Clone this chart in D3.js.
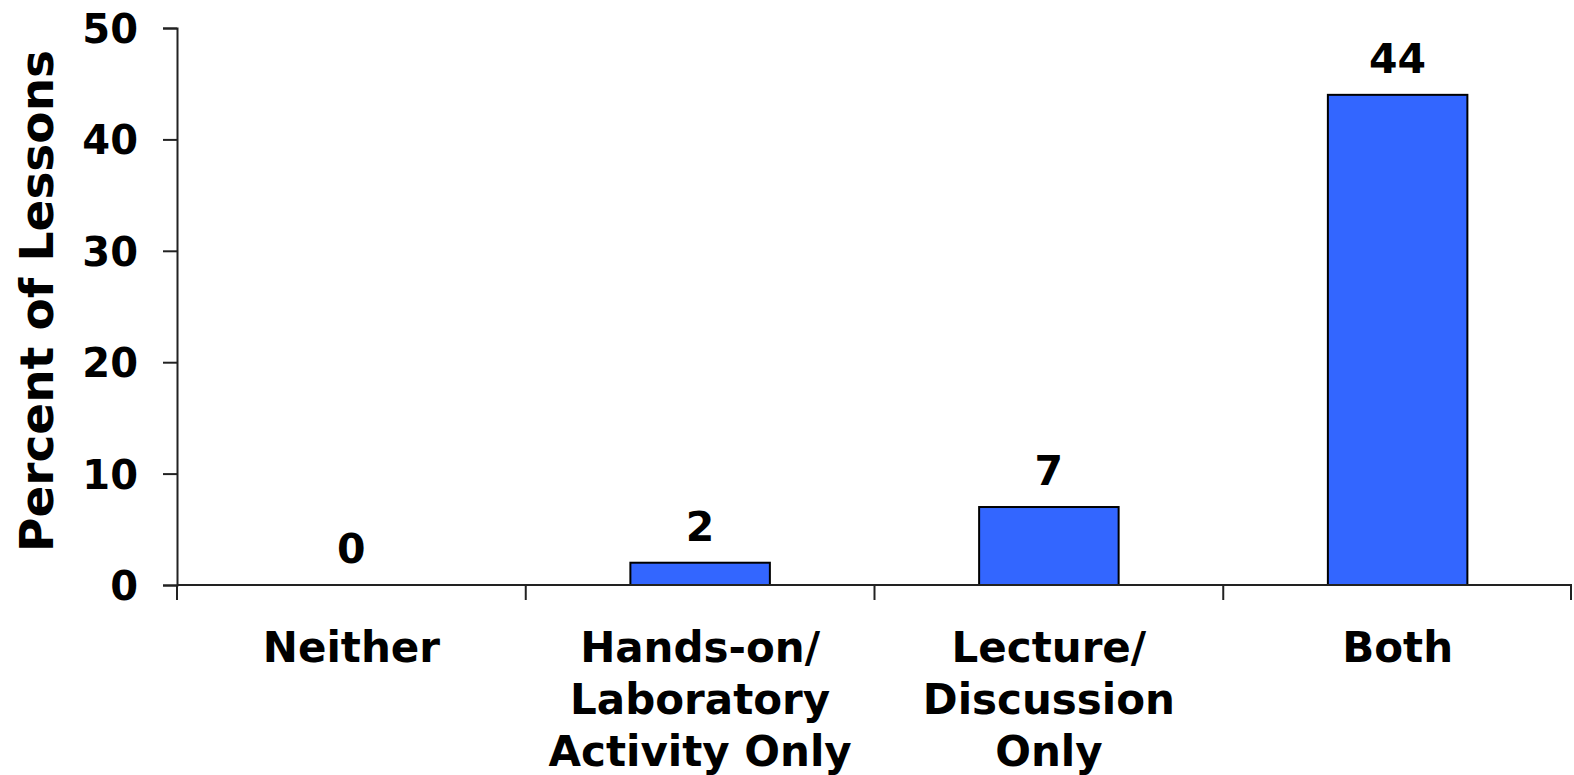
<!DOCTYPE html>
<html>
<head>
<meta charset="utf-8">
<script src="https://cdn.jsdelivr.net/npm/d3@7"></script>
<style>
  html, body { margin: 0; padding: 0; background: #fff; }
  svg { display: block; }
  text { font-family: "DejaVu Sans", Verdana, sans-serif; font-weight: bold; fill: #000; }
</style>
</head>
<body>
<svg id="chart" width="1574" height="775"></svg>
<script>
// Lesson format categories and their share of lessons (%)
const categories = ["Neither", "Hands-on/Laboratory Activity Only", "Lecture/Discussion Only", "Both"];
const categoryLines = [["Neither"], ["Hands-on/", "Laboratory", "Activity Only"], ["Lecture/", "Discussion", "Only"], ["Both"]];
const values = [0, 2, 7, 44];
const yTicks = [0, 10, 20, 30, 40, 50];
const yTitle = "Percent of Lessons";

const svg = d3.select("#chart");
const plotLeft = 177, plotRight = 1572, plotTop = 28, plotBottom = 585;

const x = d3.scaleBand()
  .domain(categories)
  .range([plotLeft, plotRight])
  .paddingInner(0.6)
  .paddingOuter(0.3);

const y = d3.scaleLinear().domain([0, 50]).range([plotBottom, plotTop]);

// Bars
svg.append("g").selectAll("rect")
  .data(values)
  .join("rect")
  .attr("x", (d, i) => x(categories[i]))
  .attr("y", d => y(d))
  .attr("width", x.bandwidth())
  .attr("height", d => y(0) - y(d))
  .attr("fill", "#3366FF")
  .attr("stroke", "#000")
  .attr("stroke-width", 2);

// Y axis
const yAxis = svg.append("g")
  .attr("transform", `translate(${plotLeft},0)`)
  .call(d3.axisLeft(y).tickValues(yTicks).tickSize(14).tickPadding(25).tickFormat(d3.format("d")));
yAxis.select(".domain").attr("stroke", "#222").attr("stroke-width", 2);
yAxis.selectAll(".tick line").attr("stroke", "#222").attr("stroke-width", 2);
yAxis.selectAll(".tick text")
  .style("font-size", "40px")
  .style("font-family", "'DejaVu Sans', Verdana, sans-serif")
  .style("font-weight", "bold")
  .attr("fill", "#000")
  .attr("dy", "0.36em");

// X axis baseline
svg.append("line")
  .attr("x1", plotLeft).attr("x2", plotRight)
  .attr("y1", y(0)).attr("y2", y(0))
  .attr("stroke", "#222").attr("stroke-width", 2);

// Category boundary ticks
const boundaries = d3.range(categories.length + 1).map(i => plotLeft + i * x.step());
svg.append("g").selectAll("line")
  .data(boundaries)
  .join("line")
  .attr("x1", d => Math.min(d, plotRight - 1)).attr("x2", d => Math.min(d, plotRight - 1))
  .attr("y1", y(0)).attr("y2", y(0) + 15)
  .attr("stroke", "#222").attr("stroke-width", 2);

// Category labels
const catG = svg.append("g").selectAll("text")
  .data(categoryLines)
  .join("text")
  .attr("text-anchor", "middle")
  .style("font-size", "42px");
catG.selectAll("tspan")
  .data((lines, i) => lines.map(l => ({ l, i })))
  .join("tspan")
  .attr("x", d => x(categories[d.i]) + x.bandwidth() / 2)
  .attr("y", (d, j) => y(0) + 77 + j * 52)
  .text(d => d.l);

// Value labels
svg.append("g").selectAll("text")
  .data(values)
  .join("text")
  .attr("text-anchor", "middle")
  .attr("x", (d, i) => x(categories[i]) + x.bandwidth() / 2)
  .attr("y", d => y(d) - 22)
  .style("font-size", "41px")
  .text(d => d);

// Y axis title
svg.append("text")
  .attr("transform", `translate(53,301) rotate(-90)`)
  .attr("text-anchor", "middle")
  .style("font-size", "47px")
  .text(yTitle);
</script>
</body>
</html>
